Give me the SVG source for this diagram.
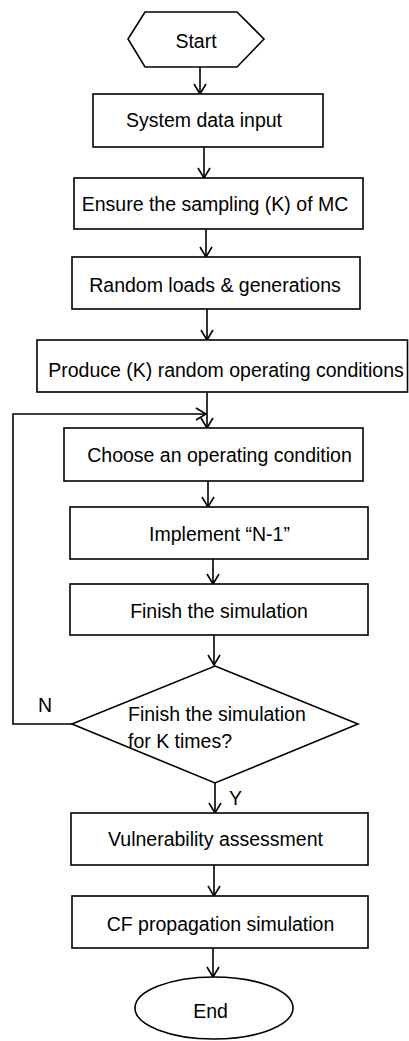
<svg xmlns="http://www.w3.org/2000/svg" width="409" height="1041" viewBox="0 0 409 1041">
<style>
.s{fill:#fff;stroke:#000;stroke-width:1.6}
.t{font-family:"Liberation Sans",Arial,sans-serif;font-size:19.5px;fill:#000;text-anchor:middle}
.l{font-family:"Liberation Sans",Arial,sans-serif;font-size:19.5px;fill:#000}
.c{fill:none;stroke:#000;stroke-width:1.6}
</style>
<defs>
<marker id="a" viewBox="-11 -7 12 14" refX="0" refY="0" markerWidth="12" markerHeight="14" markerUnits="userSpaceOnUse" orient="auto">
<path d="M-10,-6 L0,0 L-10,6" fill="none" stroke="#000" stroke-width="1.6"/>
</marker>
</defs>
<rect width="409" height="1041" fill="#fff"/>
<g id="connectors">
<line class="c" x1="200" y1="67" x2="200" y2="94" marker-end="url(#a)"/>
<line class="c" x1="204" y1="147" x2="204" y2="178" marker-end="url(#a)"/>
<line class="c" x1="206" y1="229" x2="206" y2="257" marker-end="url(#a)"/>
<line class="c" x1="207" y1="309" x2="207" y2="340" marker-end="url(#a)"/>
<line class="c" x1="207" y1="392" x2="207" y2="428" marker-end="url(#a)"/>
<line class="c" x1="208" y1="481" x2="208" y2="507" marker-end="url(#a)"/>
<line class="c" x1="213" y1="559" x2="213" y2="584" marker-end="url(#a)"/>
<line class="c" x1="214" y1="635" x2="214" y2="665" marker-end="url(#a)"/>
<line class="c" x1="215" y1="783" x2="215" y2="813" marker-end="url(#a)"/>
<line class="c" x1="214" y1="865" x2="214" y2="896" marker-end="url(#a)"/>
<line class="c" x1="213" y1="948" x2="213" y2="977" marker-end="url(#a)"/>
<polyline class="c" points="72,724 13,724 13,414 206,414" marker-end="url(#a)"/>
<text class="l" x="38" y="712">N</text>
<text class="l" x="229" y="805">Y</text>
</g>
<g id="start">
<polygon class="s" points="145,12 237,12 264,39 237,67 145,67 128,39"/>
<text class="t" x="196" y="48">Start</text>
</g>
<g id="input">
<rect class="s" x="93" y="94" width="230" height="53"/>
<text class="t" x="204" y="127">System data input</text>
</g>
<g id="sampling">
<rect class="s" x="74" y="178" width="289" height="51"/>
<text class="t" x="215" y="211">Ensure the sampling (K) of MC</text>
</g>
<g id="random">
<rect class="s" x="72" y="257" width="288" height="52"/>
<text class="t" x="215" y="292">Random loads &amp; generations</text>
</g>
<g id="produce">
<rect class="s" x="37" y="340" width="370.5" height="52"/>
<text class="t" x="226" y="377">Produce (K) random operating conditions</text>
</g>
<g id="choose">
<rect class="s" x="64" y="428" width="299" height="53"/>
<text class="t" x="219.5" y="462">Choose an operating condition</text>
</g>
<g id="implement">
<rect class="s" x="70" y="507" width="298" height="52"/>
<text class="t" x="219.5" y="541">Implement “N-1”</text>
</g>
<g id="finish">
<rect class="s" x="70" y="584" width="298" height="51"/>
<text class="t" x="219" y="618">Finish the simulation</text>
</g>
<g id="decision">
<polygon class="s" points="215,666 358,724 215,783 72,724"/>
<text class="l" x="128" y="721">Finish the simulation</text>
<text class="l" x="128" y="748">for K times?</text>
</g>
<g id="vulnerability">
<rect class="s" x="71" y="813" width="297" height="52"/>
<text class="t" x="215.5" y="846">Vulnerability assessment</text>
</g>
<g id="cf">
<rect class="s" x="72" y="896" width="296" height="52"/>
<text class="t" x="220.5" y="931">CF propagation simulation</text>
</g>
<g id="end">
<ellipse class="s" cx="214" cy="1008" rx="79" ry="31"/>
<text class="t" x="210.5" y="1018">End</text>
</g>
</svg>
